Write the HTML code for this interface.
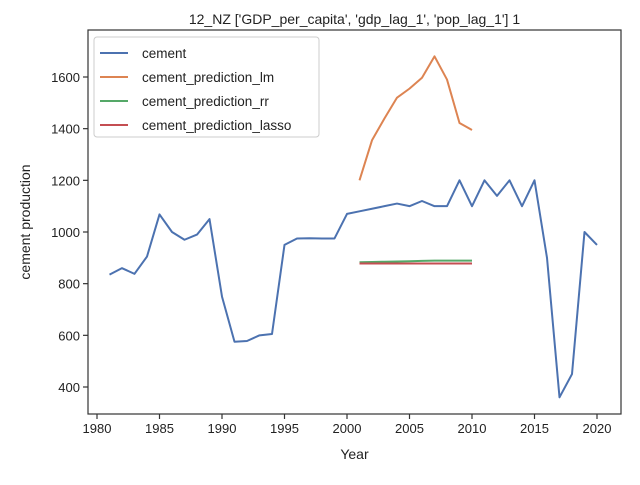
<!DOCTYPE html>
<html><head><meta charset="utf-8"><style>
body{margin:0;background:#fff;font-family:"Liberation Sans","DejaVu Sans",sans-serif}
</style></head><body>
<svg id="chart" width="640" height="480" xmlns="http://www.w3.org/2000/svg" font-family="Liberation Sans, DejaVu Sans, sans-serif"></svg>
<script>
const years=[1981,1982,1983,1984,1985,1986,1987,1988,1989,1990,1991,1992,1993,1994,1995,1996,1997,1998,1999,2000,2001,2002,2003,2004,2005,2006,2007,2008,2009,2010,2011,2012,2013,2014,2015,2016,2017,2018,2019,2020];
const cement=[835,860,838,905,1068,1000,970,990,1050,750,575,578,600,605,950,975,976,975,975,1070,1080,1090,1100,1110,1100,1120,1100,1100,1200,1100,1200,1140,1200,1100,1200,900,360,450,1000,950];
const predYears=[2001,2002,2003,2004,2005,2006,2007,2008,2009,2010];
const predLm=[1200,1355,1440,1520,1555,1597,1680,1590,1422,1395];
const predRr=[883,884,885,886,887,888,889,889,889,889];
const predLasso=[878,878,878,878,878,878,878,878,878,878];
const xTicks=[1980,1985,1990,1995,2000,2005,2010,2015,2020];
const yTicks=[400,600,800,1000,1200,1400,1600];
const svg=document.getElementById('chart');const NS='http://www.w3.org/2000/svg';
const L=88,R=621,T=30,B=414;
const xs=y=>97+(y-1980)*12.5;
const ys=v=>77+(1600-v)*0.258333;
function mk(t,a,p){const e=document.createElementNS(NS,t);for(const k in a)e.setAttribute(k,a[k]);(p||svg).appendChild(e);return e;}
const title=mk('text',{x:(L+R)/2,y:24,'text-anchor':'middle','font-size':14,fill:'#222'});title.textContent="12_NZ ['GDP_per_capita', 'gdp_lag_1', 'pop_lag_1'] 1";


xTicks.forEach(t=>{const g=mk('g',{});


mk('line',{x1:xs(t),x2:xs(t),y1:B,y2:B+5,stroke:'#333','stroke-width':1.2},g);
const tx=mk('text',{x:xs(t),y:B+19,'text-anchor':'middle','font-size':13,fill:'#222'},g);tx.textContent=t;});
yTicks.forEach(t=>{const g=mk('g',{});


mk('line',{x1:L-5,x2:L,y1:ys(t),y2:ys(t),stroke:'#333','stroke-width':1.2},g);
const tx=mk('text',{x:L-8,y:ys(t)+5,'text-anchor':'end','font-size':13,fill:'#222'},g);tx.textContent=t;});
const xl=mk('text',{x:(L+R)/2,y:459,'text-anchor':'middle','font-size':14,fill:'#222'});xl.textContent='Year';


const yl=mk('text',{x:0,y:0,transform:'translate(30,'+(T+B)/2+') rotate(-90)','text-anchor':'middle','font-size':14,fill:'#222'});yl.textContent='cement production';


function line(xv,yv,c,name){const p=mk('polyline',{points:xv.map((x,i)=>xs(x)+','+ys(yv[i])).join(' '),fill:'none',stroke:c,'stroke-width':2,'stroke-linejoin':'round'});

}
line(years,cement,'#4c72b0','cement-line');
line(predYears,predLm,'#dd8452','lm-line');
line(predYears,predRr,'#55a868','rr-line');
line(predYears,predLasso,'#c44e52','lasso-line');
const fr=mk('rect',{x:L,y:T,width:R-L,height:B-T,fill:'none',stroke:'#333','stroke-width':1.2});


const lg=mk('g',{});


mk('rect',{x:94,y:37,width:225,height:100,rx:3,fill:'#fff',stroke:'#ccc'},lg);
[['cement','#4c72b0'],['cement_prediction_lm','#dd8452'],['cement_prediction_rr','#55a868'],['cement_prediction_lasso','#c44e52']].forEach((d,i)=>{
const g=mk('g',{},lg);


const y=53+i*24;
mk('line',{x1:100,x2:128,y1:y,y2:y,stroke:d[1],'stroke-width':2},g);
const t=mk('text',{x:142,y:y+5,'font-size':13.5,fill:'#222'},g);t.textContent=d[0];});
</script>
</body></html>
